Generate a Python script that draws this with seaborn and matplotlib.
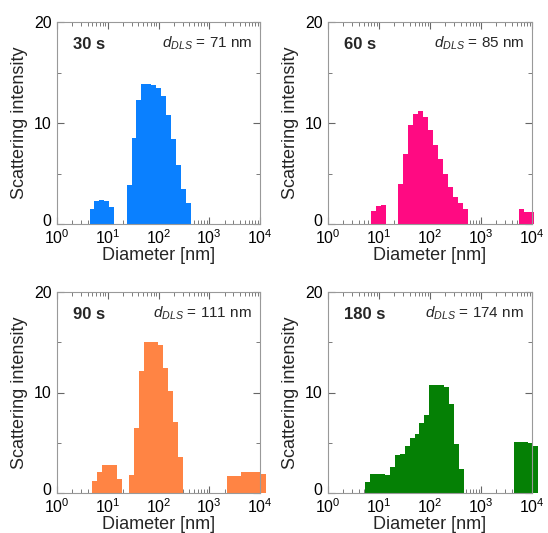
import numpy as np
import pandas as pd
import matplotlib
matplotlib.use("Agg")
import matplotlib.pyplot as plt
import seaborn as sns
from matplotlib.ticker import LogLocator, FixedLocator, MultipleLocator, NullFormatter
from matplotlib.transforms import ScaledTranslation

# ------------------ Data ------------------
bin_step = 0.097  # width of one size bin, in decades

times = ["30 s", "60 s", "90 s", "180 s"]
d_dls = [71, 85, 111, 174]
colors = ["#0a80ff", "#ff0a82", "#ff8444", "#058005"]

# left edge (nm) of the first bin of every peak, and the bin heights
starts_30 = [4.37, 23.5]
heights_30 = [
    [1.5, 2.3, 2.35, 2.3, 1.7],
    [3.9, 8.5, 12.3, 13.9, 13.9, 13.8, 13.5, 12.7, 10.8, 8.4, 5.8, 3.5, 2.1],
]

starts_60 = [6.9, 24.0, 5500.0]
heights_60 = [
    [1.3, 1.75, 1.85],
    [4.0, 6.9, 9.8, 10.9, 11.2, 10.6, 9.3, 7.8, 6.4, 4.95, 3.7, 2.65, 2.1, 1.45],
    [1.45, 1.22, 1.2],
]

starts_90 = [4.95, 26.1, 2190.0]
heights_90 = [
    [1.2, 2.1, 2.75, 2.75, 2.75, 1.4],
    [1.8, 6.5, 12.1, 15.0, 15.0, 15.0, 14.7, 12.4, 10.1, 7.1, 3.6],
    [1.65, 1.65, 1.7, 2.05, 2.1, 2.1, 2.05, 1.9],
]

starts_180 = [5.33, 4365.0]
heights_180 = [
    [1.1, 1.85, 1.85, 1.85, 1.75, 2.6, 3.8, 3.9, 4.7, 5.5, 5.9, 6.95, 7.8,
     10.75, 10.75, 10.75, 10.5, 8.9, 4.85, 2.4],
    [5.1, 5.1, 5.1, 5.0, 4.7],
]

all_starts = [starts_30, starts_60, starts_90, starts_180]
all_heights = [heights_30, heights_60, heights_90, heights_180]
y_ticks = [0, 10, 20]


# ------------------ Helpers ------------------
def build_panel(starts, heights):
    rows = []
    edges = []
    for s, hs in zip(starts, heights):
        e = np.log10(s) + bin_step * np.arange(len(hs) + 1)
        mids = (e[:-1] + e[1:]) / 2
        for m, h in zip(mids, hs):
            rows.append({"diameter": 10 ** m, "intensity": h})
        edges.extend(e.tolist())
    return pd.DataFrame(rows), edges


sns.set_theme(style="ticks")
plt.rcParams["font.family"] = ["Liberation Sans", "DejaVu Sans"]
plt.rcParams["mathtext.fontset"] = "custom"
plt.rcParams["mathtext.rm"] = "Liberation Sans"
plt.rcParams["mathtext.it"] = "Liberation Sans:italic"
plt.rcParams["mathtext.bf"] = "Liberation Sans:bold"

fig = plt.figure(figsize=(5.48, 5.33), dpi=100)
W, H = 548, 533
boxes = [(57, 22, 260, 224), (328, 22, 532, 224),
         (57, 292, 260, 493), (328, 292, 532, 493)]

for i, (l, t, r, b) in enumerate(boxes):
    ax = fig.add_axes([l / W, 1 - b / H, (r - l) / W, (b - t) / H])
    df, edges = build_panel(all_starts[i], all_heights[i])
    sns.histplot(data=df, x="diameter", weights="intensity", bins=edges,
                 log_scale=True, element="step", fill=True, color=colors[i],
                 alpha=1, linewidth=0, ax=ax)
    for c in ax.collections:
        c.set_clip_on(False)
    for p in ax.patches:
        p.set_clip_on(False)

    ax.set_xlim(1, 1e4)
    ax.set_ylim(0, 20)
    ax.xaxis.set_major_locator(LogLocator(base=10, numticks=10))
    ax.xaxis.set_minor_locator(LogLocator(base=10, subs=np.arange(2, 10), numticks=10))
    ax.xaxis.set_minor_formatter(NullFormatter())
    ax.yaxis.set_major_locator(FixedLocator(y_ticks))
    ax.yaxis.set_minor_locator(MultipleLocator(5))

    ax.tick_params(which="both", direction="in", top=True, right=True,
                   colors="#666666", labelcolor="black", labelsize=11.5)
    ax.tick_params(axis="x", which="major", pad=3)
    ax.tick_params(axis="y", which="major", pad=4)
    ax.tick_params(which="major", length=5, width=0.8)
    ax.tick_params(which="minor", length=3, width=0.6)
    for sp in ax.spines.values():
        sp.set_color("#999999")
        sp.set_linewidth(0.8)

    # lift the "0" a little so it sits clear of the 10^0 label
    zero_lab = ax.yaxis.get_major_ticks()[0].label1
    zero_lab.set_transform(zero_lab.get_transform()
                           + ScaledTranslation(0, 3 / 72, fig.dpi_scale_trans))

    ax.set_xlabel("Diameter [nm]", fontsize=13, labelpad=0)
    ax.set_ylabel("Scattering intensity", fontsize=13, labelpad=4)

    ax.text(0.08, 0.89, times[i], transform=ax.transAxes, fontsize=12,
            fontweight="bold", va="center", ha="left")
    ax.text(0.96, 0.895, rf"$d_{{DLS}}$ = {d_dls[i]} nm", transform=ax.transAxes,
            fontsize=11, va="center", ha="right")

fig.savefig("out.png", dpi=100)
